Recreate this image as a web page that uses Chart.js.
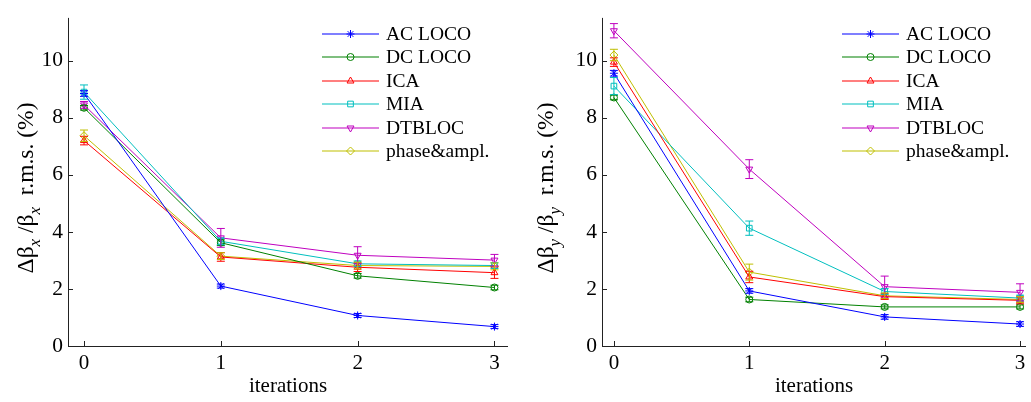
<!DOCTYPE html>
<html>
<head>
<meta charset="utf-8">
<script src="https://cdn.jsdelivr.net/npm/chart.js@4/dist/chart.umd.min.js"></script>
<style>
body { margin: 0; background: #fff; }
.box { position: absolute; top: 0; height: 402px; }
</style>
</head>
<body>
<div class="box" style="left:0;width:516px"><canvas id="leftChart"></canvas></div>
<div class="box" style="left:516px;width:515px"><canvas id="rightChart"></canvas></div>
<script>
const iterations = [0, 1, 2, 3];
const yTicks = [0, 2, 4, 6, 8, 10];
const methods = ["AC LOCO", "DC LOCO", "ICA", "MIA", "DTBLOC", "phase&ampl."];

// horizontal beta beating (left panel)
const acLocoX = [8.85, 2.10, 1.07, 0.68];
const acLocoXErr = [0.10, 0.07, 0.07, 0.07];
const dcLocoX = [8.35, 3.62, 2.46, 2.05];
const dcLocoXErr = [0.08, 0.10, 0.08, 0.08];
const icaX = [7.20, 3.12, 2.76, 2.57];
const icaXErr = [0.15, 0.15, 0.15, 0.20];
const miaX = [8.90, 3.67, 2.88, 2.82];
const miaXErr = [0.25, 0.12, 0.10, 0.10];
const dtblocX = [8.45, 3.79, 3.18, 3.01];
const dtblocXErr = [0.12, 0.33, 0.30, 0.20];
const phaseX = [7.37, 3.15, 2.82, 2.79];
const phaseXErr = [0.20, 0.12, 0.12, 0.12];

// vertical beta beating (right panel)
const acLocoY = [9.56, 1.93, 1.02, 0.77];
const acLocoYErr = [0.10, 0.08, 0.08, 0.08];
const dcLocoY = [8.71, 1.63, 1.37, 1.37];
const dcLocoYErr = [0.08, 0.08, 0.07, 0.07];
const icaY = [9.95, 2.42, 1.73, 1.60];
const icaYErr = [0.15, 0.20, 0.10, 0.12];
const miaY = [9.11, 4.13, 1.91, 1.68];
const miaYErr = [0.30, 0.25, 0.10, 0.10];
const dtblocY = [11.05, 6.20, 2.08, 1.88];
const dtblocYErr = [0.25, 0.33, 0.37, 0.30];
const phaseY = [10.20, 2.59, 1.76, 1.63];
const phaseYErr = [0.20, 0.28, 0.10, 0.10];

const colors = ["#0000ff", "#008000", "#ff0000", "#00bfbf", "#bf00bf", "#bfbf00"];
const markers = ["star", "circle", "triangle", "rect", "triangle", "rectRot"];
const markerRotation = [0, 0, 0, 0, 180, 0];
const markerSize = [4, 3.5, 4, 4, 4, 4];

const serif = '"Liberation Serif", "DejaVu Serif", serif';

function makeDatasets(series, errors) {
    return series.map((vals, i) => ({
        label: methods[i],
        data: vals.map((v, j) => ({ x: iterations[j], y: v })),
        errors: errors[i],
        borderColor: colors[i],
        backgroundColor: "rgba(0,0,0,0)",
        borderWidth: 1,
        pointStyle: markers[i],
        pointRotation: markerRotation[i],
        pointRadius: markerSize[i],
        pointBorderWidth: 1,
        pointBackgroundColor: "rgba(0,0,0,0)",
        tension: 0
    }));
}

// error bars, plain axes with inward ticks, matlab style legend, y title with subscripts
const paperPlugin = {
    id: "paper",
    afterDatasetsDraw(chart) {
        const ctx = chart.ctx, xs = chart.scales.x, ys = chart.scales.y;
        chart.data.datasets.forEach(ds => {
            ctx.save();
            ctx.strokeStyle = ds.borderColor;
            ctx.lineWidth = 1;
            ds.data.forEach((p, j) => {
                const px = xs.getPixelForValue(p.x);
                const top = ys.getPixelForValue(p.y + ds.errors[j]);
                const bot = ys.getPixelForValue(p.y - ds.errors[j]);
                ctx.beginPath();
                ctx.moveTo(px, top); ctx.lineTo(px, bot);
                ctx.moveTo(px - 4, top); ctx.lineTo(px + 4, top);
                ctx.moveTo(px - 4, bot); ctx.lineTo(px + 4, bot);
                ctx.stroke();
            });
            ctx.restore();
        });
    },
    afterDraw(chart, args, opts) {
        const ctx = chart.ctx, a = chart.chartArea, xs = chart.scales.x, ys = chart.scales.y;
        ctx.save();
        ctx.strokeStyle = "#222";
        ctx.lineWidth = 1;
        ctx.beginPath();
        ctx.moveTo(a.left + 0.5, a.top);
        ctx.lineTo(a.left + 0.5, a.bottom + 0.5);
        ctx.lineTo(a.right, a.bottom + 0.5);
        yTicks.forEach(t => {
            const py = Math.round(ys.getPixelForValue(t)) + 0.5;
            ctx.moveTo(a.left, py); ctx.lineTo(a.left + 5, py);
        });
        iterations.forEach(t => {
            const px = Math.round(xs.getPixelForValue(t)) + 0.5;
            ctx.moveTo(px, a.bottom); ctx.lineTo(px, a.bottom - 5);
        });
        ctx.stroke();

        // legend
        const lx = opts.legendX, ly = 33.5, step = 23.5;
        chart.data.datasets.forEach((ds, i) => {
            const y = Math.round(ly + i * step);
            ctx.strokeStyle = ds.borderColor;
            ctx.fillStyle = "rgba(0,0,0,0)";
            ctx.lineWidth = 1.1;
            ctx.beginPath();
            ctx.moveTo(lx, y); ctx.lineTo(lx + 57, y);
            ctx.stroke();
            ctx.lineWidth = 1;
            Chart.helpers.drawPoint(ctx, {
                pointStyle: ds.pointStyle, rotation: ds.pointRotation,
                radius: ds.pointRadius, borderWidth: 1
            }, lx + 28.5, y);
            ctx.fillStyle = "#000";
            ctx.font = "19.5px " + serif;
            ctx.textBaseline = "middle";
            ctx.textAlign = "left";
            ctx.fillText(ds.label, lx + 64, y + 1);
        });

        // y axis title
        const big = "23.5px " + serif, sub = "italic 17px " + serif;
        const parts = [["Δβ", big, 0], [opts.axis, sub, 7], [" /β", big, 0], [opts.axis, sub, 7], ["  r.m.s. (%)", big, 0]];
        ctx.translate(opts.titleX, 188);
        ctx.rotate(-Math.PI / 2);
        let total = 0;
        parts.forEach(p => { ctx.font = p[1]; total += ctx.measureText(p[0]).width; });
        let pos = -total / 2;
        ctx.textBaseline = "alphabetic";
        ctx.fillStyle = "#000";
        parts.forEach(p => {
            ctx.font = p[1];
            ctx.fillText(p[0], pos, p[2]);
            pos += ctx.measureText(p[0]).width;
        });
        ctx.restore();
    }
};

function makeChart(canvasId, datasets, cfg) {
    return new Chart(document.getElementById(canvasId), {
        type: "line",
        data: { datasets: datasets },
        options: {
            responsive: true,
            maintainAspectRatio: false,
            animation: false,
            layout: { padding: { top: 9, right: cfg.padRight, left: 0, bottom: 0 } },
            plugins: {
                legend: { display: false },
                tooltip: { enabled: false },
                paper: { legendX: cfg.legendX, titleX: cfg.titleX, axis: cfg.axis }
            },
            scales: {
                x: {
                    type: "linear",
                    min: cfg.xMin,
                    max: cfg.xMax,
                    afterBuildTicks: s => { s.ticks = iterations.map(v => ({ value: v })); },
                    afterFit: s => { s.height = 56; },
                    grid: { display: false, drawTicks: false },
                    border: { display: false },
                    ticks: { color: "#000", padding: 5, font: { family: serif, size: 21 } },
                    title: { display: true, text: "iterations", color: "#000", padding: { top: 0, bottom: 3 }, font: { family: serif, size: 21 } }
                },
                y: {
                    min: 0,
                    max: 11.5,
                    afterBuildTicks: s => { s.ticks = yTicks.map(v => ({ value: v })); },
                    afterFit: s => { s.width = cfg.yWidth; },
                    grid: { display: false, drawTicks: false },
                    border: { display: false },
                    ticks: { color: "#000", padding: 5, font: { family: serif, size: 21.5 } }
                }
            }
        },
        plugins: [paperPlugin]
    });
}

makeChart("leftChart",
    makeDatasets([acLocoX, dcLocoX, icaX, miaX, dtblocX, phaseX],
                 [acLocoXErr, dcLocoXErr, icaXErr, miaXErr, dtblocXErr, phaseXErr]),
    { padRight: 8, yWidth: 68, xMin: -0.117, xMax: 3.099, legendX: 322, titleX: 33, axis: "x" });

makeChart("rightChart",
    makeDatasets([acLocoY, dcLocoY, icaY, miaY, dtblocY, phaseY],
                 [acLocoYErr, dcLocoYErr, icaYErr, miaYErr, dtblocYErr, phaseYErr]),
    { padRight: 0, yWidth: 86, xMin: -0.088, xMax: 3.044, legendX: 326, titleX: 37, axis: "y" });
</script>
</body>
</html>
